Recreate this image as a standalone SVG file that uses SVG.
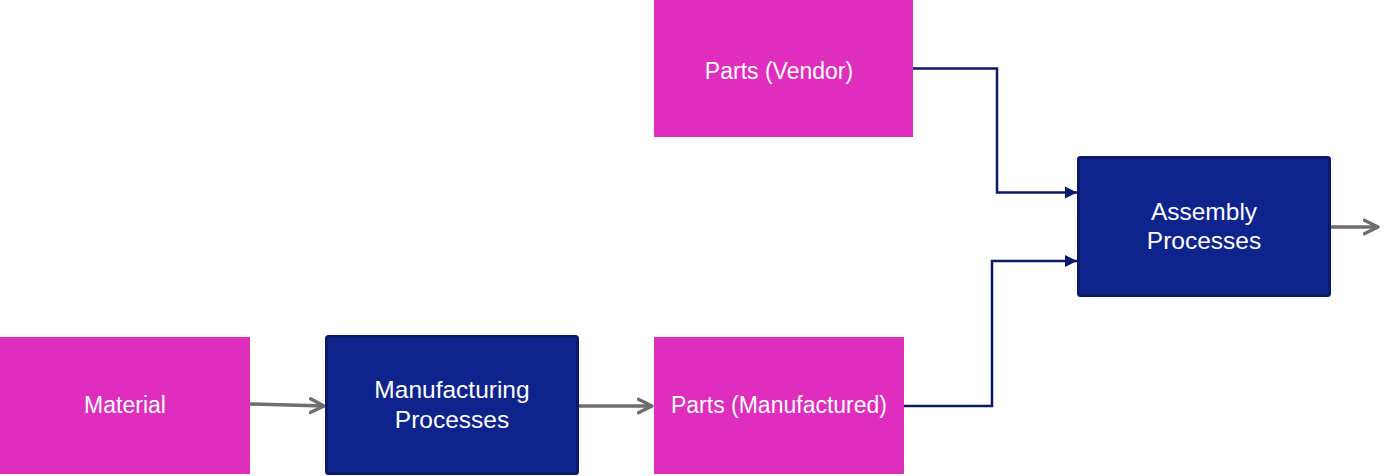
<svg xmlns="http://www.w3.org/2000/svg" width="1399" height="476" viewBox="0 0 1399 476">
<style>
.pink{fill:#DF2DBE}
.navy{fill:#0F238C;stroke:#0A1A66;stroke-width:3}
.t{font-family:"Liberation Sans",Arial,sans-serif;font-size:23px;fill:#FFFFFF;text-anchor:middle}
.tl{font-size:24.5px}
.g{stroke:#6E6E6E;stroke-width:3.5;fill:none}
.b{stroke:#0A1A6B;stroke-width:2.5;fill:none}
</style>
<defs>
<marker id="chev" viewBox="0 0 10 10" refX="9" refY="5" markerUnits="userSpaceOnUse" markerWidth="17" markerHeight="19" orient="auto">
<path d="M1,1 L9,5 L1,9" fill="none" stroke="#6E6E6E" stroke-width="2" stroke-linecap="round" stroke-linejoin="round"/>
</marker>
<marker id="tri" viewBox="0 0 10 10" refX="10" refY="5" markerUnits="userSpaceOnUse" markerWidth="12" markerHeight="13" orient="auto">
<path d="M0,0 L10,5 L0,10 Z" fill="#0A1A6B"/>
</marker>
</defs>
<rect width="1399" height="476" fill="#FFFFFF"/>
<g id="connectors">
<path class="g" d="M250,404 L324,406" marker-end="url(#chev)"/>
<path class="g" d="M579,406 L652,406" marker-end="url(#chev)"/>
<path class="b" d="M913,68.5 L997,68.5 L997,192.5 L1077,192.5" marker-end="url(#tri)"/>
<path class="b" d="M904,406 L992,406 L992,261 L1077,261" marker-end="url(#tri)"/>
<path class="g" d="M1331,227 L1378,227" marker-end="url(#chev)"/>
</g>
<g id="parts-vendor">
<rect class="pink" x="654" y="0" width="259" height="137"/>
<text class="t" x="779" y="79">Parts (Vendor)</text>
</g>
<g id="material">
<rect class="pink" x="0" y="337" width="250" height="137"/>
<text class="t" x="125" y="413">Material</text>
</g>
<g id="manufacturing">
<rect class="navy" x="326.5" y="336.5" width="251" height="137" rx="2"/>
<text class="t tl" x="452" y="398">Manufacturing</text>
<text class="t tl" x="452" y="428">Processes</text>
</g>
<g id="parts-manufactured">
<rect class="pink" x="654" y="337" width="250" height="137"/>
<text class="t" x="779" y="413">Parts (Manufactured)</text>
</g>
<g id="assembly">
<rect class="navy" x="1078.5" y="157.5" width="251" height="138" rx="2"/>
<text class="t tl" x="1204" y="220">Assembly</text>
<text class="t tl" x="1204" y="249">Processes</text>
</g>
</svg>
